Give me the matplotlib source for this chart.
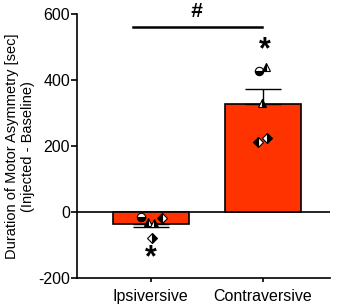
import numpy as np
import matplotlib
matplotlib.use("Agg")
from matplotlib import pyplot as plt

plt.rcParams['font.family'] = ['Liberation Sans', 'DejaVu Sans']
plt.rcParams['axes.unicode_minus'] = False

groups = ['Ipsiversive', 'Contraversive']
ipsi = [-14, -30, -33, -18, -79]
contra = [427, 439, 330, 212, 224]
markers = ['o', '^', '^', 'D', 'D']
fills = ['bottom', 'left', 'right', 'left', 'right']
ipsi_jit = [-0.09, -0.02, 0.03, 0.1, 0.01]
contra_jit = [-0.03, 0.03, -0.01, -0.04, 0.04]

means = [np.mean(ipsi), np.mean(contra)]
sems = [np.std(ipsi, ddof=1) / np.sqrt(len(ipsi)), np.std(contra, ddof=1) / np.sqrt(len(contra))]

fig = plt.figure(figsize=(3.4, 3.07), dpi=100)
ax = fig.add_axes([0.226, 0.094, 0.744, 0.86])

x = np.arange(len(groups))
ax.bar(x, means, width=0.68, color='#ff3300', edgecolor='black', linewidth=1.2, zorder=2)
for i in range(2):
    ax.errorbar(x[i], means[i], yerr=[[0], [sems[i]]] if means[i] > 0 else [[sems[i]], [0]],
                color='black', capsize=13, elinewidth=1, capthick=1, zorder=3)

for vals, jit, xc in [(ipsi, ipsi_jit, 0), (contra, contra_jit, 1)]:
    for v, j, m, f in zip(vals, jit, markers, fills):
        ax.plot(xc + j, v, marker=m, fillstyle=f, markersize=6 if m != 'D' else 5,
                markerfacecolor='black', markerfacecoloralt='white',
                markeredgecolor='black', markeredgewidth=0.8, linestyle='none', zorder=4)

ax.axhline(0, color='black', linewidth=1.2, zorder=1)

ax.set_xlim(-0.66, 1.6)
ax.set_ylim(-200, 600)
ax.set_yticks([-200, 0, 200, 400, 600])
ax.set_xticks(x)
ax.set_xticklabels(groups, fontsize=11.5)
ax.tick_params(axis='x', length=3, width=1.2, pad=5)
ax.tick_params(axis='y', labelsize=11.5, length=4, width=1.2, pad=1)
for s in ['top', 'right']:
    ax.spines[s].set_visible(False)
for s in ['left', 'bottom']:
    ax.spines[s].set_linewidth(1.2)
ax.set_ylabel('Duration of Motor Asymmetry [sec]\n(Injected - Baseline)', fontsize=10.5, labelpad=2)

ax.text(0, -140, '*', fontsize=22, ha='center', va='center', fontweight='bold')
ax.text(1.02, 490, '*', fontsize=22, ha='center', va='center', fontweight='bold')
ax.plot([-0.16, 0.99], [560, 560], color='black', linewidth=1.8, clip_on=False)
ax.text(0.41, 607, '#', fontsize=15, ha='center', va='center', fontweight='bold',
        style='italic', clip_on=False)

fig.savefig('out.png', dpi=100)
